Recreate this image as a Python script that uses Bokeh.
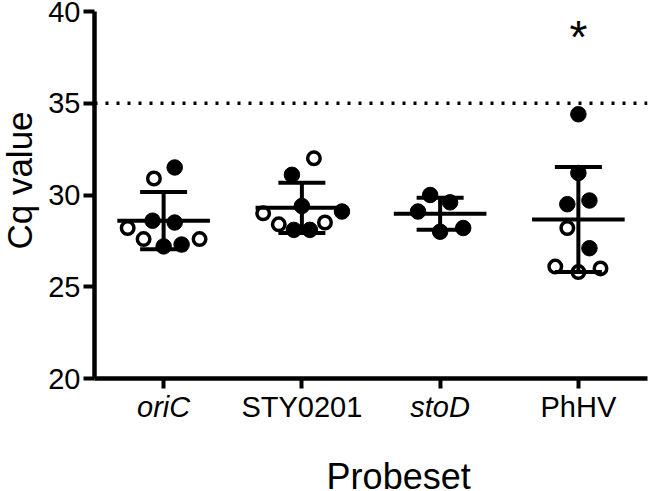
import numpy as np
from bokeh.plotting import figure
from bokeh.layouts import column, row
from bokeh.models import Span, FixedTicker, Range1d
from bokeh.core.properties import value
from bokeh.embed import file_html
from bokeh.resources import INLINE

# ---------------- data ----------------
categories = ["oriC", "STY0201", "stoD", "PhHV"]
category_style = ["italic", "normal", "italic", "normal"]
x_title = "Probeset"
y_title = "Cq value"

oric_cq = [31.5, 30.9, 28.6, 28.5, 28.2, 27.6, 27.2, 27.3, 27.6]
oric_open = [0, 1, 0, 0, 1, 1, 0, 0, 1]
oric_dx = [0.08, -0.07, -0.08, 0.08, -0.26, -0.145, 0.0, 0.13, 0.26]

sty_cq = [32.0, 31.1, 29.4, 29.0, 29.1, 28.4, 28.5, 28.1, 28.1]
sty_open = [1, 0, 0, 1, 0, 1, 1, 0, 0]
sty_dx = [0.087, -0.072, 0.0, -0.28, 0.29, -0.167, 0.167, -0.058, 0.058]

stod_cq = [30.0, 29.6, 29.1, 28.0, 28.2]
stod_open = [0, 0, 0, 0, 0]
stod_dx = [-0.072, 0.072, -0.16, 0.0, 0.167]

phhv_cq = [34.4, 31.2, 29.5, 29.7, 28.2, 27.1, 26.1, 25.8, 26.0]
phhv_open = [0, 0, 0, 0, 1, 0, 1, 1, 1]
phhv_dx = [0.0, 0.0, -0.08, 0.08, -0.08, 0.08, -0.167, 0.0, 0.16]

y_ticks = [20, 25, 30, 35, 40]
threshold_cq = 35
star_cq = 38.6          # level of the significance star above PhHV
star_category = 3

groups = [(oric_cq, oric_open, oric_dx),
          (sty_cq, sty_open, sty_dx),
          (stod_cq, stod_open, stod_dx),
          (phhv_cq, phhv_open, phhv_dx)]

# ---------------- derived ----------------
fx, fy, ox, oy = [], [], [], []
mx0, mx1, my = [], [], []
vx, vy0, vy1 = [], [], []
cx0, cx1, cy = [], [], []
MEAN_HW, CAP_HW = 0.335, 0.17
for i, (vals, opn, dx) in enumerate(groups):
    for v, o, d in zip(vals, opn, dx):
        if o:
            ox.append(i + d); oy.append(v)
        else:
            fx.append(i + d); fy.append(v)
    m = float(np.mean(vals)); s = float(np.std(vals, ddof=1))
    mx0.append(i - MEAN_HW); mx1.append(i + MEAN_HW); my.append(m)
    vx.append(i); vy0.append(m - s); vy1.append(m + s)
    for yy in (m - s, m + s):
        cx0.append(i - CAP_HW); cx1.append(i + CAP_HW); cy.append(yy)

FONT = "Liberation Sans"
LEFT_W = 40
MAIN_W = 610
MAIN_H = 392
STRIP_H = 99
TOTAL_H = MAIN_H + STRIP_H
MID = 0.3465   # em-box middle above the alphabetic baseline (Liberation Sans)


def bare(fig):
    fig.outline_line_color = None
    fig.grid.visible = False
    fig.background_fill_color = "white"
    fig.border_fill_color = "white"


# ---------------- main plot ----------------
p = figure(width=MAIN_W, height=MAIN_H, output_backend="svg", toolbar_location=None,
           title=None,
           x_range=Range1d(-0.5, len(categories) - 0.5), y_range=Range1d(20, 40),
           min_border_left=54, min_border_right=3, min_border_top=11,
           min_border_bottom=MAIN_H - 378)
bare(p)

p.scatter(fx, fy, marker="circle", size=15.5, fill_color="black",
          line_color="black", line_width=1)
p.scatter(ox, oy, marker="circle", size=12.5, fill_color="white",
          line_color="black", line_width=3.5)

p.segment(x0=mx0, y0=my, x1=mx1, y1=my, line_color="black", line_width=4)
p.segment(x0=vx, y0=vy0, x1=vx, y1=vy1, line_color="black", line_width=4)
p.segment(x0=cx0, y0=cy, x1=cx1, y1=cy, line_color="black", line_width=4)

p.add_layout(Span(location=threshold_cq, dimension="width", line_color="black",
                  line_width=3.5, line_dash="3 8"))

p.text(x=[star_category], y=[star_cq], text=["*"], text_align="center",
       text_baseline="middle", text_font=value(FONT), text_font_size="46px",
       text_color="black")

for ax in (p.xaxis[0], p.yaxis[0]):
    ax.axis_line_width = 4.5
    ax.axis_line_color = "black"
    ax.major_tick_line_width = 4
    ax.major_tick_in = 0
    ax.minor_tick_line_color = None
    ax.major_label_text_font = FONT
    ax.major_label_text_color = "black"

p.yaxis.ticker = FixedTicker(ticks=y_ticks)
p.yaxis.major_tick_out = 11
p.yaxis.major_label_standoff = 3
p.yaxis.major_label_text_font_size = "29px"

p.xaxis.ticker = FixedTicker(ticks=list(range(len(categories))))
p.xaxis.major_tick_out = 10
p.xaxis.major_label_standoff = 0
p.xaxis.major_label_text_font_size = "1px"
p.xaxis.major_label_overrides = {i: "" for i in range(len(categories))}

# ---------------- category labels + x title (strip under the plot) ----------------
q = figure(width=MAIN_W, height=STRIP_H, output_backend="svg", toolbar_location=None,
           title=None, x_range=p.x_range, y_range=Range1d(0, STRIP_H),
           x_axis_type=None, y_axis_type=None,
           min_border_left=54, min_border_right=3, min_border_top=0,
           min_border_bottom=0)
bare(q)
cat_base = 417 - MAIN_H      # baseline, px below the strip top
title_base = 488 - MAIN_H
q.text(x=list(range(len(categories))),
       y=[STRIP_H - (cat_base - MID * 29)] * len(categories),
       text=categories, text_font_style=category_style, text_align="center",
       text_baseline="middle", text_font=value(FONT), text_font_size="29px",
       text_color="black")
q.text(x=[1.70], y=[STRIP_H - (title_base - MID * 36)], text=[x_title],
       text_align="center", text_baseline="middle", text_font=value(FONT),
       text_font_size="36px", text_color="black")

# ---------------- y title (strip left of the plot) ----------------
L = figure(width=LEFT_W, height=TOTAL_H, output_backend="svg", toolbar_location=None,
           title=None, x_range=Range1d(0, LEFT_W), y_range=Range1d(0, TOTAL_H),
           x_axis_type=None, y_axis_type=None,
           min_border_left=0, min_border_right=0, min_border_top=0,
           min_border_bottom=0)
bare(L)
ytitle_base = 31
L.text(x=[ytitle_base - MID * 35], y=[TOTAL_H - 180], text=[y_title],
       angle=np.pi / 2, text_align="center", text_baseline="middle",
       text_font=value(FONT), text_font_size="35px", text_color="black")

layout = row(L, column(p, q, spacing=0), spacing=0)
open("out.html", "w").write(file_html(layout, INLINE))
